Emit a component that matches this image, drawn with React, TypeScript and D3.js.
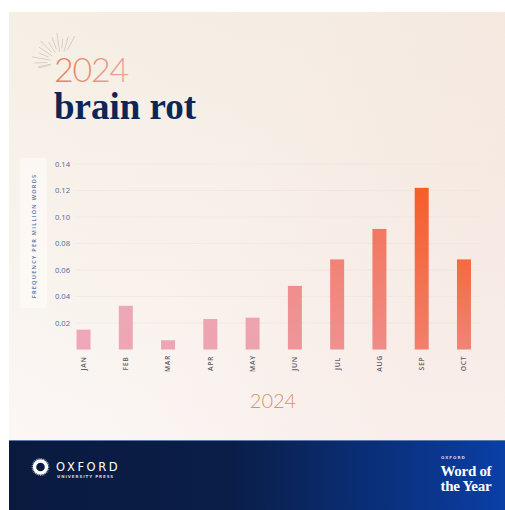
import * as d3 from 'd3';

const months = ['JAN', 'FEB', 'MAR', 'APR', 'MAY', 'JUN', 'JUL', 'AUG', 'SEP', 'OCT'];
const frequency = [0.015, 0.033, 0.007, 0.023, 0.024, 0.048, 0.068, 0.091, 0.122, 0.068];
const yTicks = [0.02, 0.04, 0.06, 0.08, 0.1, 0.12, 0.14];
const rayAngles = [-195, -182, -170, -158, -146, -134, -122, -110, -98, -86, -74, -62, 168];

export default function App() {
  const W = 505;
  const H = 510;
  const x = d3.scaleBand<string>().domain(months).range([62.4, 485.1]).paddingInner(0.669).paddingOuter(0.3345);
  const y = d3.scaleLinear().domain([0, 0.14]).range([349.5, 164]);
  const tone = d3.scaleLinear<string>().domain([0, 4, 5, 9]).range(['#eea8b8', '#eea3b0', '#f08e8c', '#f46234']).interpolate(d3.interpolateRgb);
  const topColor = (i: number) => (i === 8 ? '#f55e28' : i === 9 ? '#f36a3e' : tone(i));
  const bottomColor = (i: number) => d3.interpolateRgb(topColor(i), '#ef9aa6')(i < 5 ? 0.1 : 0.55);

  return (
    <svg
      viewBox={`0 0 ${W} ${H}`}
      width={W}
      height={H}
      style={{ position: 'absolute', left: 0, top: 0 }}
    >
      <defs>
        <linearGradient id="bgV" x1="0" y1="0" x2="0" y2="1">
          <stop offset="0" stopColor="#f5efe5" />
          <stop offset="0.55" stopColor="#f9f4ee" />
          <stop offset="1" stopColor="#fcfaf8" />
        </linearGradient>
        <linearGradient id="bgH" x1="0" y1="0" x2="1" y2="0.4">
          <stop offset="0" stopColor="#f3d8d2" stopOpacity="0" />
          <stop offset="0.5" stopColor="#f3d8d2" stopOpacity="0.12" />
          <stop offset="1" stopColor="#f3d8d2" stopOpacity="0.35" />
        </linearGradient>
        <linearGradient id="foot" x1="0" y1="0" x2="1" y2="0">
          <stop offset="0" stopColor="#0a1a3f" />
          <stop offset="0.45" stopColor="#0a1e48" />
          <stop offset="1" stopColor="#0a3fa6" />
        </linearGradient>
        <linearGradient id="title" x1="0" y1="0" x2="1" y2="0">
          <stop offset="0" stopColor="#e57f55" />
          <stop offset="1" stopColor="#e9a5a0" />
        </linearGradient>
        {months.map((m, i) => (
          <linearGradient key={m} id={`bar${i}`} x1="0" y1="0" x2="0" y2="1">
            <stop offset="0" stopColor={topColor(i)} />
            <stop offset="1" stopColor={bottomColor(i)} />
          </linearGradient>
        ))}
      </defs>

      <rect x={0} y={0} width={W} height={H} fill="#ffffff" />
      <rect x={9} y={12} width={W - 9} height={428} fill="url(#bgV)" />
      <rect x={9} y={12} width={W - 9} height={428} fill="url(#bgH)" />

      {/* sunburst */}
      <g stroke="#d9cfc2" strokeWidth={1} strokeLinecap="round">
        {rayAngles.map((a, i) => {
          const r = (a * Math.PI) / 180;
          const r0 = 11 + (i % 2) * 3;
          const r1 = 23 + (i % 3) * 3;
          return (
            <line
              key={a}
              x1={61 + Math.cos(r) * r0}
              y1={62 + Math.sin(r) * r0}
              x2={61 + Math.cos(r) * r1}
              y2={62 + Math.sin(r) * r1}
            />
          );
        })}
      </g>

      <text x={54} y={81.5} fontFamily="Lato" fontWeight={300} fontSize={34} fill="url(#title)" letterSpacing={-1.2}>
        2024
      </text>
      <text x={54} y={118.5} fontFamily="Liberation Serif" fontWeight={700} fontSize={37} fill="#0c2657">
        brain rot
      </text>

      {/* y label panel */}
      <rect x={20} y={158} width={27} height={150} fill="#fcf9f5" opacity={0.8} />
      <text
        transform="translate(35.5,236) rotate(-90)"
        textAnchor="middle"
        fontFamily="Open Sans"
        fontWeight={600}
        fontSize={5.6}
        letterSpacing={1.25}
        fill="#5370a6"
      >
        FREQUENCY PER MILLION WORDS
      </text>

      {/* gridlines */}
      <g stroke="#e9ddd4" strokeWidth={0.6} opacity={0.6}>
        {yTicks.map((t) => (
          <line key={t} x1={76} x2={480} y1={y(t)} y2={y(t)} />
        ))}
      </g>
      <g fontFamily="Open Sans" fontSize={7.6} fill="#4d6aa0">
        {yTicks.map((t) => (
          <text key={t} x={55} y={y(t) + 2.7}>
            {t.toFixed(2)}
          </text>
        ))}
      </g>

      {/* bars */}
      {frequency.map((v, i) => (
        <rect
          key={months[i]}
          x={x(months[i])}
          y={y(v)}
          width={x.bandwidth()}
          height={y(0) - y(v)}
          fill={`url(#bar${i})`}
        />
      ))}

      {/* month labels */}
      <g fontFamily="Open Sans" fontWeight={600} fontSize={6.8} letterSpacing={0.7} fill="#5e5e64">
        {months.map((m) => (
          <text
            key={m}
            textAnchor="middle"
            transform={`translate(${(x(m) ?? 0) + x.bandwidth() / 2 + 2.4},363.5) rotate(-90)`}
          >
            {m}
          </text>
        ))}
      </g>

      <text x={273} y={408} textAnchor="middle" fontFamily="Lato" fontWeight={300} fontSize={20} fill="#d8936a">
        2024
      </text>

      {/* footer */}
      <rect x={9} y={440} width={W - 9} height={70} fill="url(#foot)" />
      <rect x={9} y={440} width={W - 9} height={1} fill="#5e7bad" />

      <circle cx={40.5} cy={467} r={6} fill="none" stroke="#ffffff" strokeWidth={3.4} />
      <circle cx={40.5} cy={467} r={8.3} fill="none" stroke="#ffffff" strokeWidth={1.2} strokeDasharray="0.8 1" opacity={0.7} />
      <text x={56} y={471} fontFamily="DejaVu Sans" fontSize={11.5} letterSpacing={2.6} fill="#ffffff">
        OXFORD
      </text>
      <text x={57} y={477.5} fontFamily="DejaVu Sans" fontWeight={700} fontSize={4} letterSpacing={0.9} fill="#c9d3e6">
        UNIVERSITY PRESS
      </text>

      <text x={441} y={459} fontFamily="DejaVu Sans" fontWeight={700} fontSize={4} letterSpacing={1} fill="#c9d3e6">
        OXFORD
      </text>
      <text x={440.5} y={476} fontFamily="Liberation Serif" fontWeight={700} fontSize={15} fill="#ffffff" letterSpacing={-0.3}>
        Word of
      </text>
      <text x={440.5} y={491} fontFamily="Liberation Serif" fontWeight={700} fontSize={15} fill="#ffffff" letterSpacing={-0.3}>
        the Year
      </text>
    </svg>
  );
}
